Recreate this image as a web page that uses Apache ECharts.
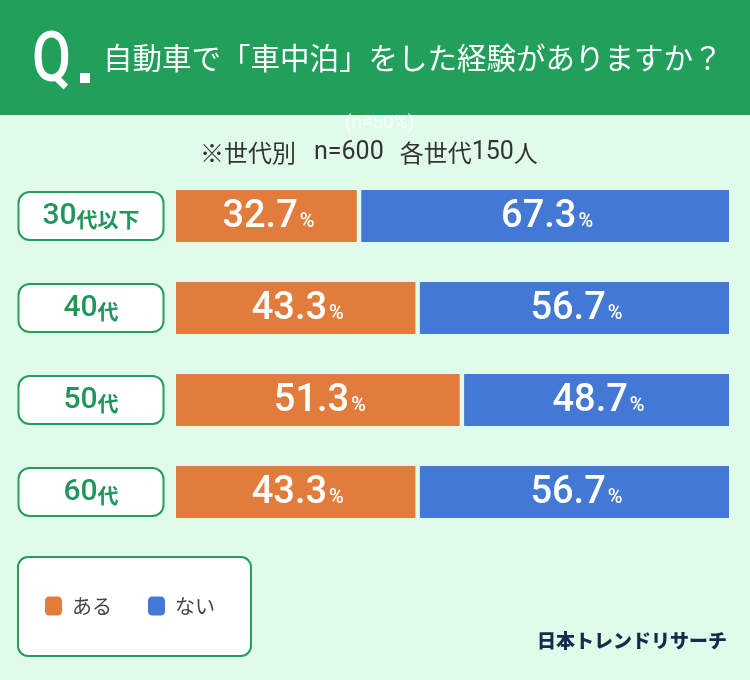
<!DOCTYPE html>
<html>
<head>
<meta charset="utf-8">
<script src="https://cdn.jsdelivr.net/npm/echarts@6/dist/echarts.min.js"></script>
<style>
  html, body { margin: 0; padding: 0; background: #e1fbea; }
  #chart_block { width: 750px; height: 680px; }
</style>
</head>
<body>
<div id="chart_block"></div>
<script>
var ages = ['30代以下', '40代', '50代', '60代'];
var yes_values = [32.7, 43.3, 51.3, 43.3];
var no_values = [67.3, 56.7, 48.7, 56.7];
var legend_names = ['ある', 'ない'];

var title_text = '自動車で「車中泊」をした経験がありますか？';

const yesColor = '#e27c3d';
const noColor = '#4379d4';
const green = '#22a05b';
const jp = '"Noto Sans CJK JP", sans-serif';
const num = 'Roboto, "Noto Sans", sans-serif';

var chartDom = document.getElementById('chart_block');
var myChart = echarts.init(chartDom);

var pctRich = {
  n: { fontFamily: num, fontSize: 38, fontWeight: 500, fill: '#fff' },
  p: { fontFamily: num, fontSize: 20, fontWeight: 500, fill: '#fff', padding: [10, 0, 0, 2] }
};

function barItem(from, to, text, params, api) {
  var idx = api.value(0);
  var c0 = api.coord([from, idx]);
  var c1 = api.coord([to, idx]);
  var h = api.size([0, 1])[1] * 0.565;
  return {
    type: 'group',
    children: [
      {
        type: 'rect',
        shape: { x: c0[0], y: c0[1] - h / 2, width: c1[0] - c0[0], height: h },
        style: { fill: api.visual('color') }
      },
      {
        type: 'text',
        style: {
          x: (c0[0] + c1[0]) / 2 + 2,
          y: c0[1] + 1,
          text: '{n|' + text.toFixed(1) + '}{p|%}',
          rich: pctRich,
          fill: '#fff',
          align: 'center',
          verticalAlign: 'middle'
        }
      }
    ]
  };
}

var options = {
  animation: false,
  backgroundColor: '#e1fbea',
  grid: { left: 176, right: 21, top: 170, bottom: 142 },
  xAxis: { type: 'value', min: 0, max: 100, show: false },
  yAxis: {
    type: 'category',
    data: ages,
    inverse: true,
    axisLine: { show: false },
    axisTick: { show: false },
    splitLine: { show: false },
    axisLabel: {
      margin: 85,
      align: 'center',
      verticalAlign: 'middle',
      backgroundColor: '#fff',
      borderColor: green,
      borderWidth: 2,
      borderRadius: 10,
      width: 143,
      height: 46,
      lineHeight: 46,
      formatter: function (v) {
        var m = v.match(/^(\d+)(.*)$/);
        return '{n|' + m[1] + '}{t|' + m[2] + '}';
      },
      rich: {
        n: { fontFamily: num, fontSize: 30, fontWeight: 500, color: '#22955a', lineHeight: 46, verticalAlign: 'middle' },
        t: { fontFamily: jp, fontSize: 21, fontWeight: 700, color: '#22955a', lineHeight: 46, verticalAlign: 'middle', padding: [6, 0, 0, 0] }
      }
    }
  },
  legend: {
    data: legend_names,
    left: 18,
    top: 557,
    orient: 'horizontal',
    icon: 'roundRect',
    itemWidth: 17,
    itemHeight: 19,
    itemGap: 36,
    backgroundColor: '#fff',
    borderColor: green,
    borderWidth: 2,
    borderRadius: 10,
    padding: [39, 36, 40, 27],
    textStyle: { fontFamily: jp, fontSize: 20, color: '#444', padding: [0, 0, 0, 5] }
  },
  graphic: [
    { type: 'rect', left: 0, top: 0, shape: { width: 750, height: 115 }, style: { fill: green } },
    {
      type: 'text', x: 32, y: 28, scaleX: 0.8,
      style: { text: 'Q', fontFamily: num, fontSize: 71, fontWeight: 500, fill: '#fff', verticalAlign: 'top' }
    },
    { type: 'rect', left: 80, top: 73, shape: { width: 10, height: 10 }, style: { fill: '#fff' } },
    {
      type: 'text', left: 103, top: 43,
      style: { text: title_text, fontFamily: jp, fontSize: 29.5, fill: '#fff' }
    },
    {
      type: 'text', left: 345, top: 114,
      style: { text: '(n=50%)', fontFamily: num, fontSize: 19, fill: 'rgba(255,255,255,0.75)' }
    },
    {
      type: 'text', left: 200, top: 140,
      style: {
        text: '{j|※世代別}{d|n=600}{j|各世代}{e|150}{j|人}',
        fill: '#333',
        rich: {
          j: { fontFamily: jp, fontSize: 24, fill: '#333' },
          d: { fontFamily: num, fontSize: 25, fill: '#333', padding: [0, 16, 0, 18] },
          e: { fontFamily: num, fontSize: 25, fill: '#333' }
        }
      }
    },
    {
      type: 'text', right: 23, top: 631,
      style: { text: '日本トレンドリサーチ', fontFamily: jp, fontSize: 19, fontWeight: 900, fill: '#132c4a' }
    }
  ],
  series: [
    {
      name: legend_names[0],
      type: 'custom',
      itemStyle: { color: yesColor },
      encode: { x: 1, y: 0 },
      data: yes_values.map(function (v, i) { return [i, v]; }),
      renderItem: function (params, api) {
        return barItem(0, api.value(1), api.value(1), params, api);
      }
    },
    {
      name: legend_names[1],
      type: 'custom',
      itemStyle: { color: noColor },
      encode: { x: 2, y: 0 },
      data: no_values.map(function (v, i) { return [i, yes_values[i], v]; }),
      renderItem: function (params, api) {
        var s = api.value(1) + 0.8;
        return barItem(s, api.value(1) + api.value(2), api.value(2), params, api);
      }
    }
  ]
};

myChart.setOption(options, true);
</script>
</body>
</html>
